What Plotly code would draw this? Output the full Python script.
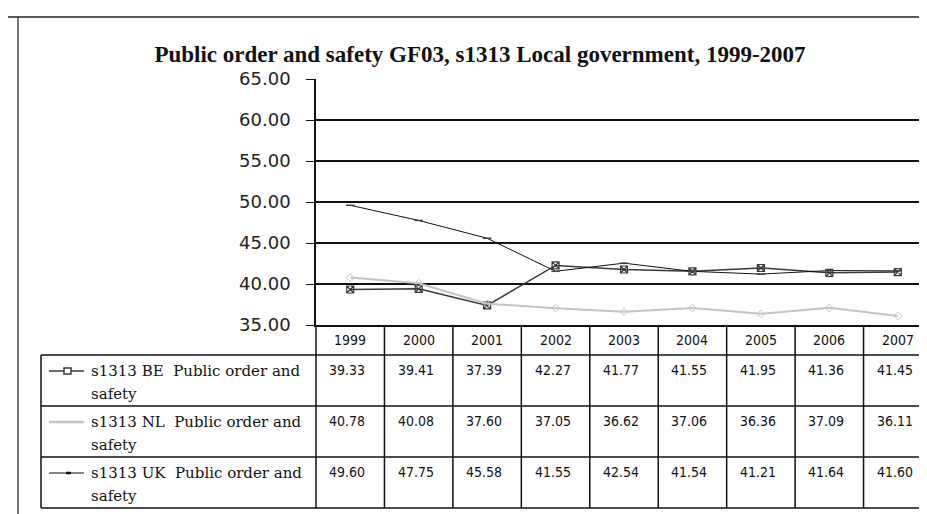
import plotly.graph_objects as go

years = ["1999", "2000", "2001", "2002", "2003", "2004", "2005", "2006", "2007"]
be_vals = [39.33, 39.41, 37.39, 42.27, 41.77, 41.55, 41.95, 41.36, 41.45]
nl_vals = [40.78, 40.08, 37.60, 37.05, 36.62, 37.06, 36.36, 37.09, 36.11]
uk_vals = [49.60, 47.75, 45.58, 41.55, 42.54, 41.54, 41.21, 41.64, 41.60]
series_names = ["s1313 BE  Public order and", "s1313 NL  Public order and", "s1313 UK  Public order and"]
y_ticks = [35, 40, 45, 50, 55, 60, 65]

W, H = 927, 514
L, R, T, B = 308, 924, 71, 317   # plot area in pixels


def px(x):
    return (x - L) / (R - L)


def py(y):
    return (B - y) / (B - T)


fig = go.Figure()

fig.add_trace(go.Scatter(x=years, y=be_vals, mode="lines+markers", name=series_names[0],
                         line=dict(color="#3a3a3a", width=1.5),
                         marker=dict(symbol="square-x-open", size=7, color="#3a3a3a", line=dict(width=1.2))))
fig.add_trace(go.Scatter(x=years, y=nl_vals, mode="lines+markers", name=series_names[1],
                         line=dict(color="#c4c4c4", width=2),
                         marker=dict(symbol="diamond-open", size=6, color="#c4c4c4")))
fig.add_trace(go.Scatter(x=years, y=uk_vals, mode="lines+markers", name=series_names[2],
                         line=dict(color="#111111", width=1),
                         marker=dict(symbol="line-ew", size=6, color="#111111", line=dict(width=1.5))))

shapes = []
ann = []
line_k = dict(color="#111111", width=1.5)

# table geometry
col_w = (R - L) / len(years)
row_tops = [347, 398, 449]
tbl_bottom = 500
tbl_left = 33

# horizontal table lines
for yy in row_tops + [tbl_bottom]:
    shapes.append(dict(type="line", xref="paper", yref="paper", x0=px(tbl_left), x1=px(R),
                       y0=py(yy), y1=py(yy), line=line_k))
# vertical table lines
for k in range(len(years) + 1):
    xx = L + k * col_w
    shapes.append(dict(type="line", xref="paper", yref="paper", x0=px(xx), x1=px(xx),
                       y0=py(B), y1=py(tbl_bottom), line=line_k))
shapes.append(dict(type="line", xref="paper", yref="paper", x0=px(tbl_left), x1=px(tbl_left),
                   y0=py(row_tops[0]), y1=py(tbl_bottom), line=line_k))

# outer frame
shapes.append(dict(type="line", xref="paper", yref="paper", x0=px(0), x1=px(W),
                   y0=py(9), y1=py(9), line=dict(color="#222222", width=1.5)))
shapes.append(dict(type="line", xref="paper", yref="paper", x0=px(10), x1=px(10),
                   y0=py(9), y1=py(H), line=dict(color="#222222", width=1.2)))

cell_font = dict(family="DejaVu Sans Condensed", size=14, color="#111111")
label_font = dict(family="DejaVu Serif", size=15, color="#111111")

# year header
for i, yr in enumerate(years):
    ann.append(dict(x=px(L + (i + 0.5) * col_w), xref="paper", y=py(332), yref="paper",
                    text=yr, showarrow=False, xanchor="center", yanchor="middle", font=cell_font))

# table rows
rows = [be_vals, nl_vals, uk_vals]
key_styles = [("#3a3a3a", 1.5), ("#c4c4c4", 2.5), ("#111111", 1.2)]
for r, vals in enumerate(rows):
    top = row_tops[r]
    for i, v in enumerate(vals):
        ann.append(dict(x=px(L + (i + 0.5) * col_w), xref="paper", y=py(top + 15), yref="paper",
                        text=f"{v:.2f}", showarrow=False, xshift=-3,
                        xanchor="center", yanchor="middle", font=cell_font))
    ann.append(dict(x=px(81), xref="paper", y=py(top + 16), yref="paper", text=series_names[r],
                    showarrow=False, xanchor="left", yanchor="middle", font=label_font))
    ann.append(dict(x=px(81), xref="paper", y=py(top + 39), yref="paper", text="safety",
                    showarrow=False, xanchor="left", yanchor="middle", font=label_font))
    # legend key
    c, w = key_styles[r]
    shapes.append(dict(type="line", xref="paper", yref="paper", x0=px(41), x1=px(76),
                       y0=py(top + 16), y1=py(top + 16), line=dict(color=c, width=w)))
    if r == 0:
        shapes.append(dict(type="rect", xref="paper", yref="paper", x0=px(56), x1=px(63),
                           y0=py(top + 13), y1=py(top + 19), line=dict(color=c, width=1.5),
                           fillcolor="white"))
    if r == 2:
        shapes.append(dict(type="line", xref="paper", yref="paper", x0=px(58), x1=px(63),
                           y0=py(top + 16), y1=py(top + 16), line=dict(color=c, width=2.5)))

fig.update_layout(
    width=W, height=H, autosize=False,
    margin=dict(l=L, r=W - R, t=T, b=H - B),
    paper_bgcolor="white", plot_bgcolor="white",
    showlegend=False,
    title=dict(text="Public order and safety GF03, s1313 Local government, 1999-2007",
               xref="container", x=472 / W, xanchor="center", yref="container",
               y=1 - 46 / H, yanchor="middle",
               font=dict(family="Liberation Serif", size=23, color="#111111", weight="bold")),
    shapes=shapes, annotations=ann,
)
fig.update_xaxes(type="category", range=[-0.5, len(years) - 0.5], showticklabels=False,
                 showgrid=False, showline=True, linecolor="#111111", linewidth=2, ticks="",
                 zeroline=False)
fig.update_yaxes(range=[35, 65], tickvals=y_ticks, tickformat=".2f",
                 showgrid=True, gridcolor="#111111", gridwidth=1.5,
                 showline=True, linecolor="#111111", linewidth=1.5,
                 ticks="outside", ticklen=8, tickcolor="#111111", ticklabelstandoff=12,
                 tickfont=dict(family="DejaVu Sans", size=18, color="#222222"),
                 zeroline=False)

fig.write_html("out.html")
